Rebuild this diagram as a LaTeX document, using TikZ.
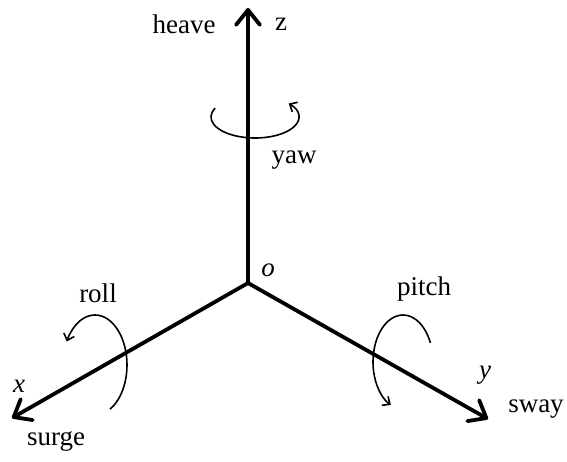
\documentclass[tikz,border=0pt]{standalone}
\usepackage{fontspec}
\setmainfont{Liberation Serif}
\usetikzlibrary{arrows.meta}
\begin{document}
\begin{tikzpicture}[x=1pt,y=-1pt,
  axis/.style={line width=3.8pt,-{Straight Barb[length=15pt,width=24pt,line width=3.8pt,round]}},
  rot/.style={line width=1.6pt,-{Straight Barb[length=6pt,width=11pt,line width=1.6pt]}},
  lbl/.style={font=\fontsize{27}{30}\selectfont,inner sep=0pt}]
\useasboundingbox (0,0) rectangle (567,461);
\coordinate (O) at (248,283);
\coordinate (Z) at (248,8);
\coordinate (X) at (12,418);
\coordinate (Y) at (488,419);
% rotation arcs
\draw[rot] (255,117) ++(205:44 and 21) arc[start angle=205,end angle=-40,x radius=44,y radius=21];
\draw[rot] (95,365) ++(62:32 and 50) arc[start angle=62,end angle=-152,x radius=32,y radius=50];
\draw[rot] (403,362) ++(-24:30 and 47) arc[start angle=-24,end angle=-246,x radius=30,y radius=47];
% axes
\draw[axis] (O) -- (Z);
\draw[axis] (O) -- (X);
\draw[axis] (O) -- (Y);
% labels
\node[lbl] (heave) at (184,24) {heave};
\node[lbl] (z) at (281,24) {z};
\node[lbl] (yaw) at (294,160) {yaw};
\node[lbl] (o) at (268,270) {\itshape o};
\node[lbl] (roll) at (98,293) {roll};
\node[lbl] (pitch) at (424,289) {pitch};
\node[lbl] (x) at (19,386) {\itshape x};
\node[lbl] (y) at (485,375) {\itshape y};
\node[lbl] (surge) at (56,441) {surge};
\node[lbl] (sway) at (536,409) {sway};
\end{tikzpicture}
\end{document}
